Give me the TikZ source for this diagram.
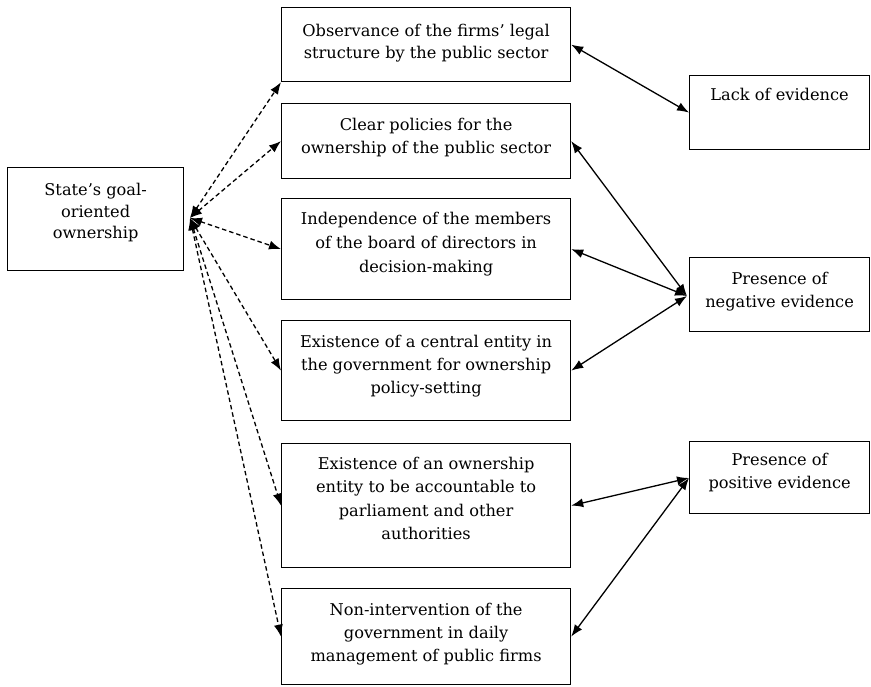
\documentclass[tikz,border=0pt]{standalone}
\usepackage{fontspec}
\setmainfont{DejaVu Serif}
\usetikzlibrary{arrows.meta,calc}

\tikzset{
  box/.style={draw, line width=1.2pt, inner sep=0pt, anchor=north west, align=center},
  link/.style={line width=1.3pt, {Latex[length=12pt,width=9pt]}-{Latex[length=12pt,width=9pt]}},
  dlink/.style={link, dash pattern=on 4.5pt off 3pt},
}
% box content: width, height, first baseline below the top, line spacing, text
\newcommand{\bx}[5]{\parbox[c][#2][t]{#1}{\centering\fontsize{16.2pt}{#4}\selectfont
  \vspace*{\dimexpr#3-12.3pt\relax}#5\par}}

\begin{document}
\begin{tikzpicture}[x=1pt,y=-1pt]
\useasboundingbox (0,0) rectangle (871,687);

\node[box] (S)  at (7,167)   {\bx{176pt}{103pt}{28pt}{21.5pt}{State’s goal-\\oriented\\ownership}};
\node[box] (B1) at (281,7)   {\bx{289pt}{74pt}{29pt}{21.5pt}{Observance of the firms’ legal\\structure by the public sector}};
\node[box] (B2) at (281,103) {\bx{289pt}{75pt}{27pt}{22.5pt}{Clear policies for the\\ownership of the public sector}};
\node[box] (B3) at (281,198) {\bx{289pt}{101pt}{26pt}{24pt}{Independence of the members\\of the board of directors in\\decision-making}};
\node[box] (B4) at (281,320) {\bx{289pt}{100pt}{27pt}{23pt}{Existence of a central entity in\\the government for ownership\\policy-setting}};
\node[box] (B5) at (281,443) {\bx{289pt}{124pt}{26pt}{23.3pt}{Existence of an ownership\\entity to be accountable to\\parliament and other\\authorities}};
\node[box] (B6) at (281,588) {\bx{289pt}{96pt}{27pt}{23pt}{Non-intervention of the\\government in daily\\management of public firms}};

\node[box] (L)  at (689,75)  {\bx{180pt}{74pt}{25pt}{22pt}{Lack of evidence}};
\node[box] (N)  at (689,257) {\bx{180pt}{74pt}{27pt}{22.5pt}{Presence of\\negative evidence}};
\node[box] (P)  at (689,441) {\bx{180pt}{72pt}{24pt}{22.5pt}{Presence of\\positive evidence}};

% common ends of the connector bundles
\coordinate (hub) at (190,218);
\coordinate (nhub) at (687,296);
\coordinate (phub) at (689,478);

\draw[dlink] (hub) -- (B1.south west);
\draw[dlink] (hub) -- (B2.west);
\draw[dlink] (hub) -- (B3.west);
\draw[dlink] (hub) -- (B4.west);
\draw[dlink] (hub) -- (B5.west);
\draw[dlink] (hub) -- (B6.west);

\draw[link] (B1.east) -- (L.west);
\draw[link] (B2.east) -- (nhub);
\draw[link] (B3.east) -- (nhub);
\draw[link] (B4.east) -- (nhub);
\draw[link] (B5.east) -- (phub);
\draw[link] (B6.east) -- (phub);
\end{tikzpicture}
\end{document}
